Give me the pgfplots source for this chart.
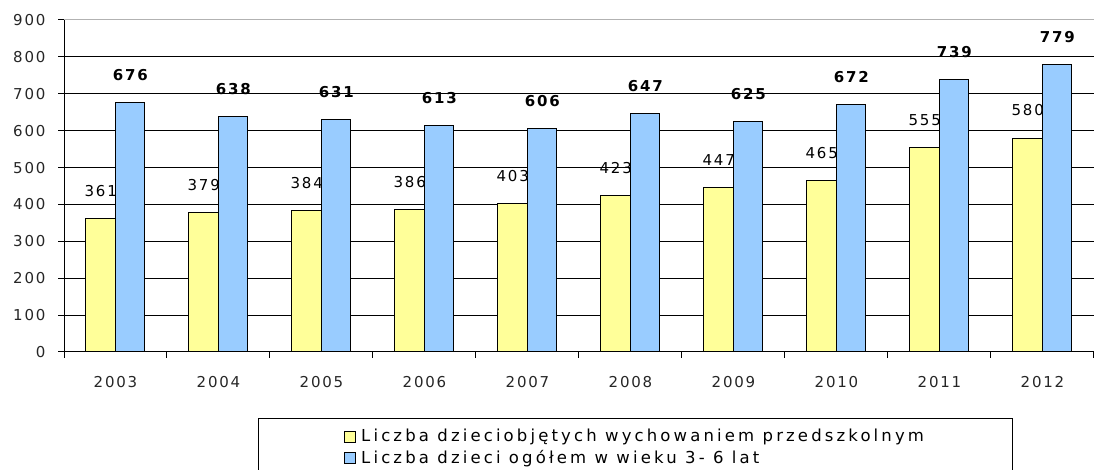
\documentclass[border=0pt]{standalone}
\usepackage{fontspec}
\setmainfont{DejaVu Sans}[LetterSpace=12]
\newfontfamily\legfont{DejaVu Sans}[LetterSpace=19]
\usepackage{pgfplots}
\pgfplotsset{compat=1.18}
\definecolor{yel}{HTML}{FFFF99}
\definecolor{blu}{HTML}{99CCFF}
\newcommand{\lblfont}{\fontsize{15}{18}\selectfont}
\begin{document}
\begin{tikzpicture}
\useasboundingbox (0pt,0pt) rectangle (1094pt,470pt);
\begin{axis}[
  at={(64pt,118pt)}, anchor=south west,
  scale only axis, width=1030pt, height=332pt,
  xmin=-0.5, xmax=9.5, ymin=0, ymax=900,
  ybar=0pt, bar width=29.5pt,
  axis lines*=left,
  axis line style={line width=1pt, black},
  xtick={0,1,2,3,4,5,6,7,8,9},
  xticklabels={2003,2004,2005,2006,2007,2008,2009,2010,2011,2012},
  minor xtick={-0.5,0.5,1.5,2.5,3.5,4.5,5.5,6.5,7.5,8.5,9.5},
  every major x tick/.append style={draw=none},
  ytick={0,100,200,300,400,500,600,700,800},
  yticklabels={0,100,200,300,400,500,600,700,800},
  extra y ticks={900}, extra y tick labels={900},
  extra y tick style={grid style={gray!60, line width=1pt}},
  ymajorgrids, grid style={black, line width=1pt},
  tick align=outside, major tick length=6pt, minor tick length=6pt,
  tick style={black, line width=1pt},
  tick label style={font=\lblfont, text=black!85},
  xticklabel style={yshift=-15pt},
  yticklabel style={xshift=-9pt},
  /pgf/number format/assume math mode=true,
  nodes near coords,
  every node near coord/.append style={font=\lblfont, anchor=south, yshift=18pt, text=black},
  legend style={at={(0.1883,-0.1988)}, anchor=north west, draw=black, line width=0.8pt,
    inner xsep=86pt, inner ysep=9pt, font=\legfont\fontsize{16.5}{19}\selectfont, cells={anchor=west},
    row sep=3pt},
  legend image code/.code={\draw[#1, line width=0.8pt] (0pt,-5.5pt) rectangle (11pt,5.5pt); \path (14pt,0pt);},
]
\addplot[fill=yel, draw=black, line width=1pt] coordinates {(0,361) (1,379) (2,384) (3,386) (4,403) (5,423) (6,447) (7,465) (8,555) (9,580)};
\addplot[fill=blu, draw=black, line width=1pt, every node near coord/.append style={font=\lblfont\bfseries}] coordinates {(0,676) (1,638) (2,631) (3,613) (4,606) (5,647) (6,625) (7,672) (8,739) (9,779)};
\legend{Liczba dzieciobjętych wychowaniem przedszkolnym, Liczba dzieci ogółem w wieku 3- 6 lat}
\end{axis}
\end{tikzpicture}
\end{document}
